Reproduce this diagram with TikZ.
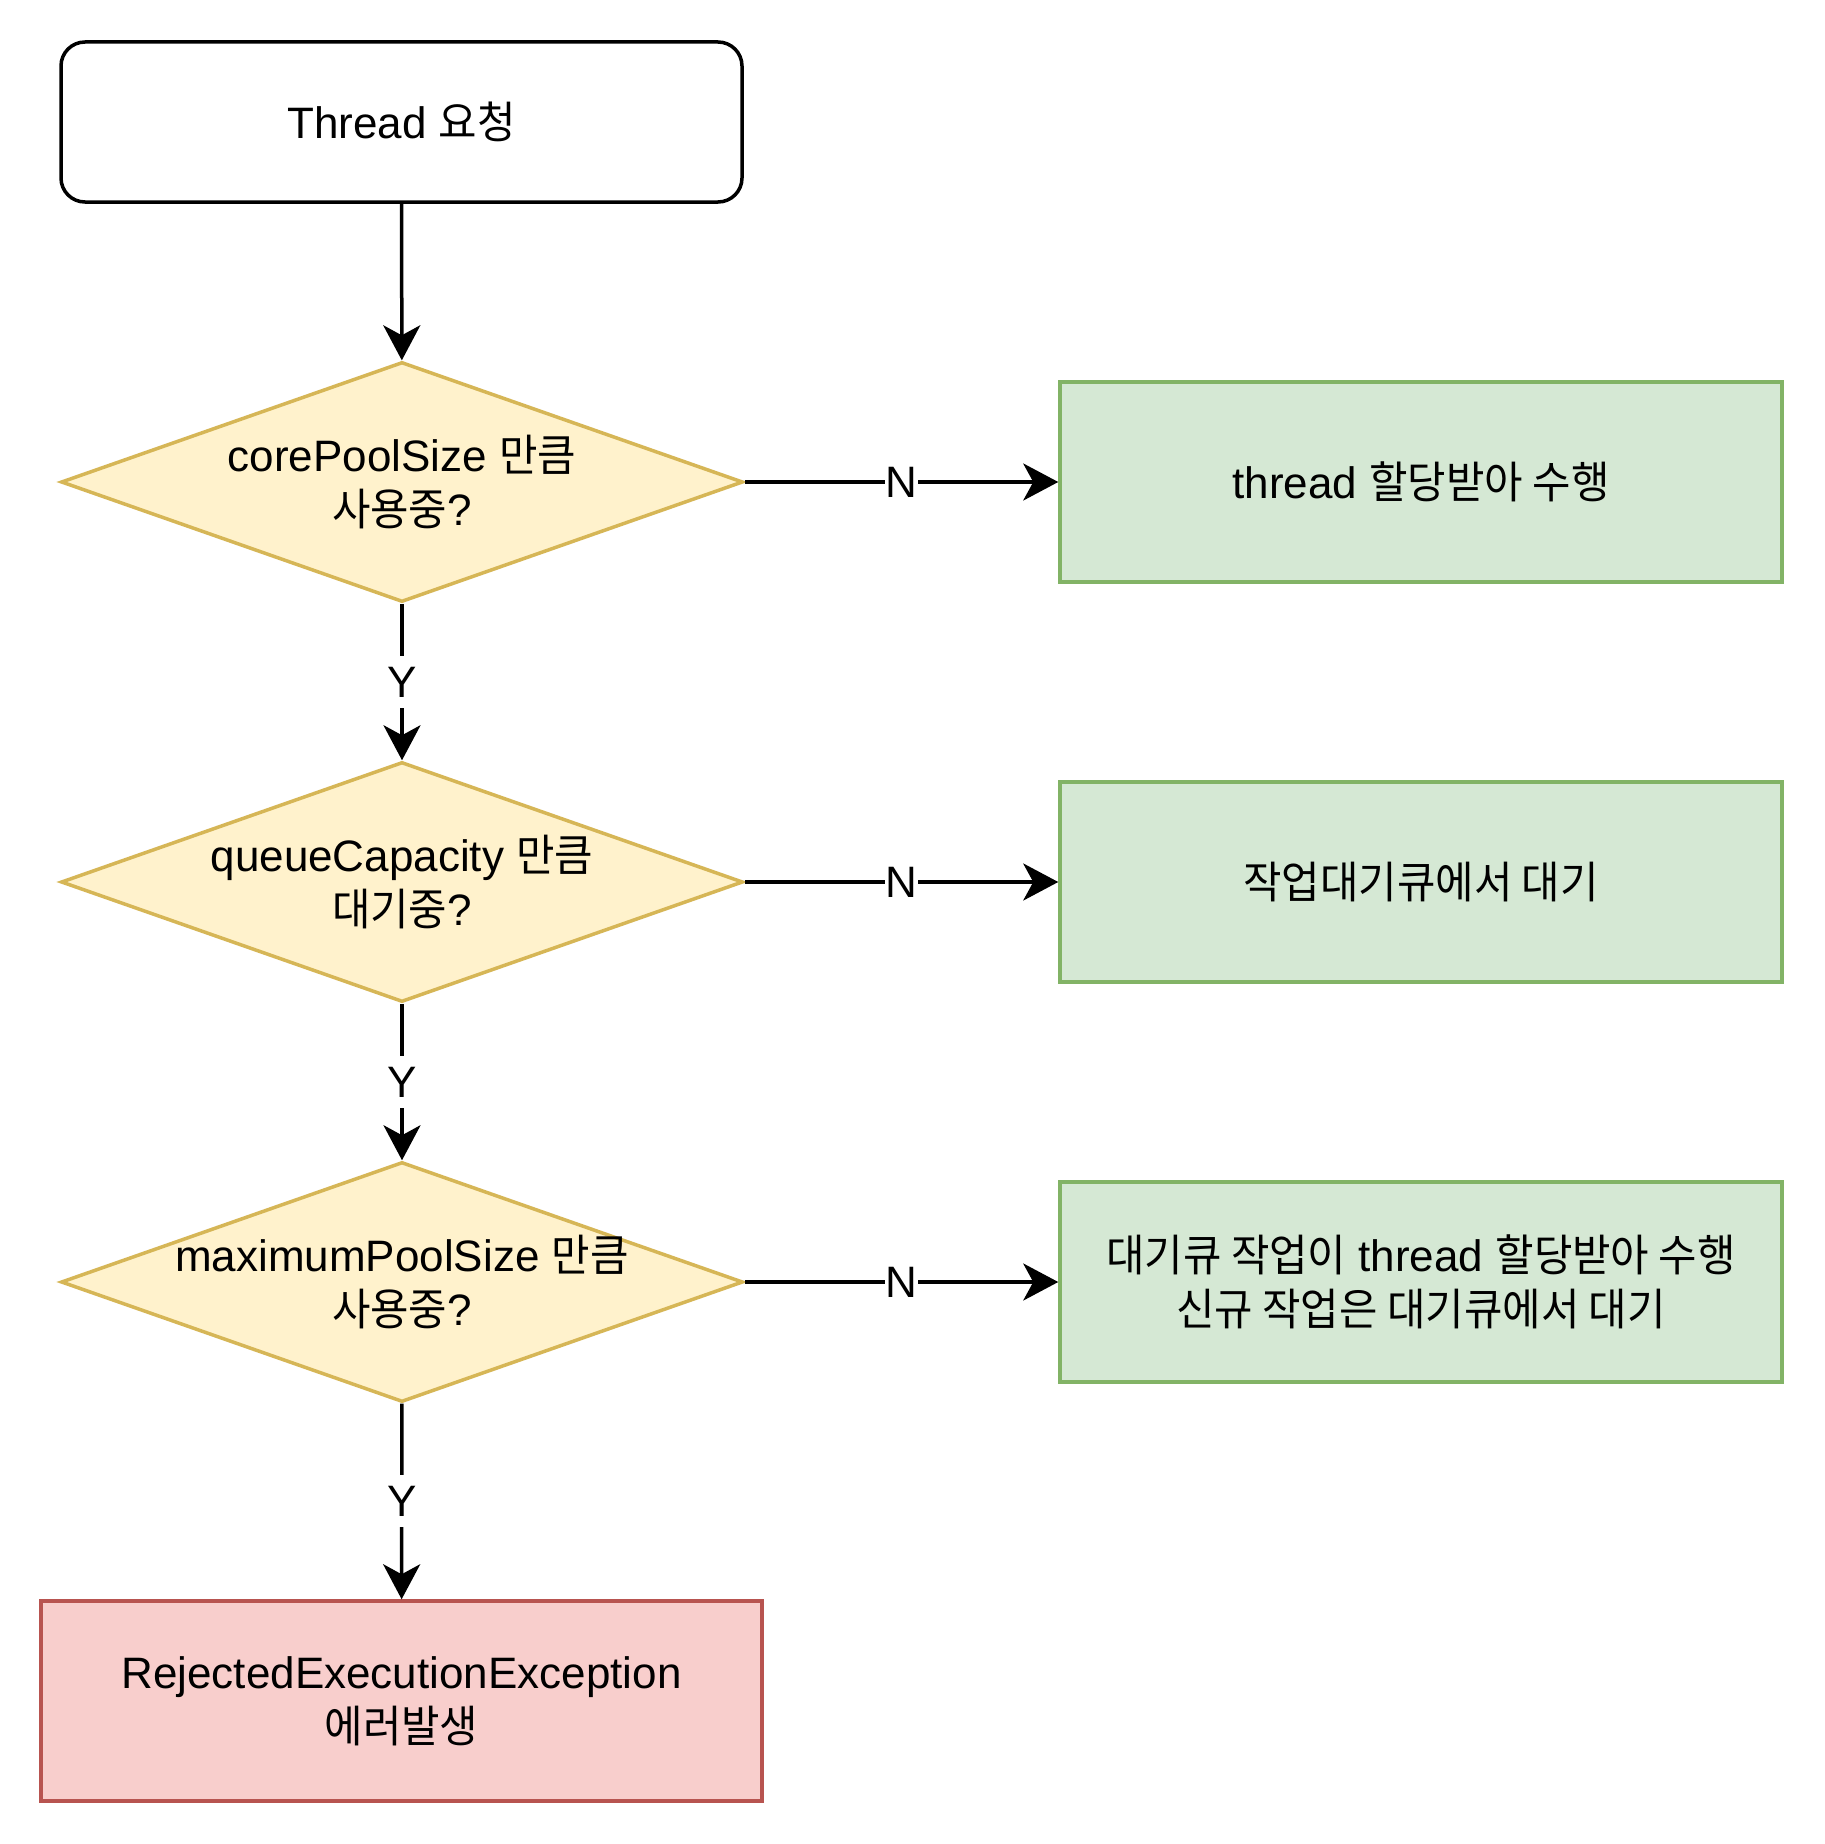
\documentclass[tikz,border=0pt]{standalone}
\usepackage{fontspec}
\setmainfont{Liberation Sans}
\newfontfamily\kr[FakeStretch=0.95]{Noto Sans CJK KR}
\usetikzlibrary{shapes.geometric,arrows.meta}
\definecolor{dyellow}{HTML}{D6B656}
\definecolor{fyellow}{HTML}{FFF2CC}
\definecolor{dgreen}{HTML}{82B366}
\definecolor{fgreen}{HTML}{D5E8D4}
\definecolor{dred}{HTML}{B85450}
\definecolor{fred}{HTML}{F8CECC}
\begin{document}
\begin{tikzpicture}[x=1pt,y=-1pt,
  font=\fontsize{44}{54}\selectfont,
  lw/.style={line width=3.5pt},
  startbox/.style={draw=black, lw, rounded corners=24pt, minimum width=681pt, minimum height=160pt, fill=white},
  dia/.style={diamond, draw=dyellow, fill=fyellow, lw, minimum width=682pt, minimum height=240pt, aspect=2.84, inner sep=0pt},
  gbox/.style={draw=dgreen, fill=fgreen, lw, minimum width=722pt, minimum height=200pt},
  rbox/.style={draw=dred, fill=fred, lw, minimum width=721pt, minimum height=200pt},
  txt/.style={align=center, inner sep=0pt},
  arr/.style={lw, -{Stealth[length=35pt,width=37pt,inset=10pt]}},
  lbl/.style={fill=white, inner xsep=1pt, inner ysep=0pt, minimum height=52pt}
]
\useasboundingbox[fill=white] (0,0) rectangle (1824,1844);

\node[startbox, align=center] (start) at (401.5,122) {Thread {\kr 요청}};

\node[dia] (d1) at (402,482) {};
\node[txt] (t1) at (d1.center) {corePoolSize {\kr 만큼}\\{\kr 사용중}?};
\node[dia] (d2) at (402,882) {};
\node[txt] (t2) at (d2.center) {queueCapacity {\kr 만큼}\\{\kr 대기중}?};
\node[dia] (d3) at (402,1282) {};
\node[txt] (t3) at (d3.center) {maximumPoolSize {\kr 만큼}\\{\kr 사용중}?};

\node[gbox, align=center] (g1) at (1421,482) {thread {\kr 할당받아 수행}};
\node[gbox, align=center] (g2) at (1421,882) {{\kr 작업대기큐에서 대기}};
\node[gbox, align=center] (g3) at (1421,1282) {{\kr 대기큐 작업이} thread {\kr 할당받아 수행}\\{\kr 신규 작업은 대기큐에서 대기}};

\node[rbox, align=center] (r) at (401.5,1701) {RejectedExecutionException\\{\kr 에러발생}};

\draw[arr] (start) -- (d1);
\draw[arr] (d1) -- node[lbl] (y1) {Y} (d2);
\draw[arr] (d2) -- node[lbl] (y2) {Y} (d3);
\draw[arr] (d3) -- node[lbl] (y3) {Y} (r);
\draw[arr] (d1) -- node[lbl] (n1) {N} (g1);
\draw[arr] (d2) -- node[lbl] (n2) {N} (g2);
\draw[arr] (d3) -- node[lbl] (n3) {N} (g3);
\end{tikzpicture}
\end{document}
